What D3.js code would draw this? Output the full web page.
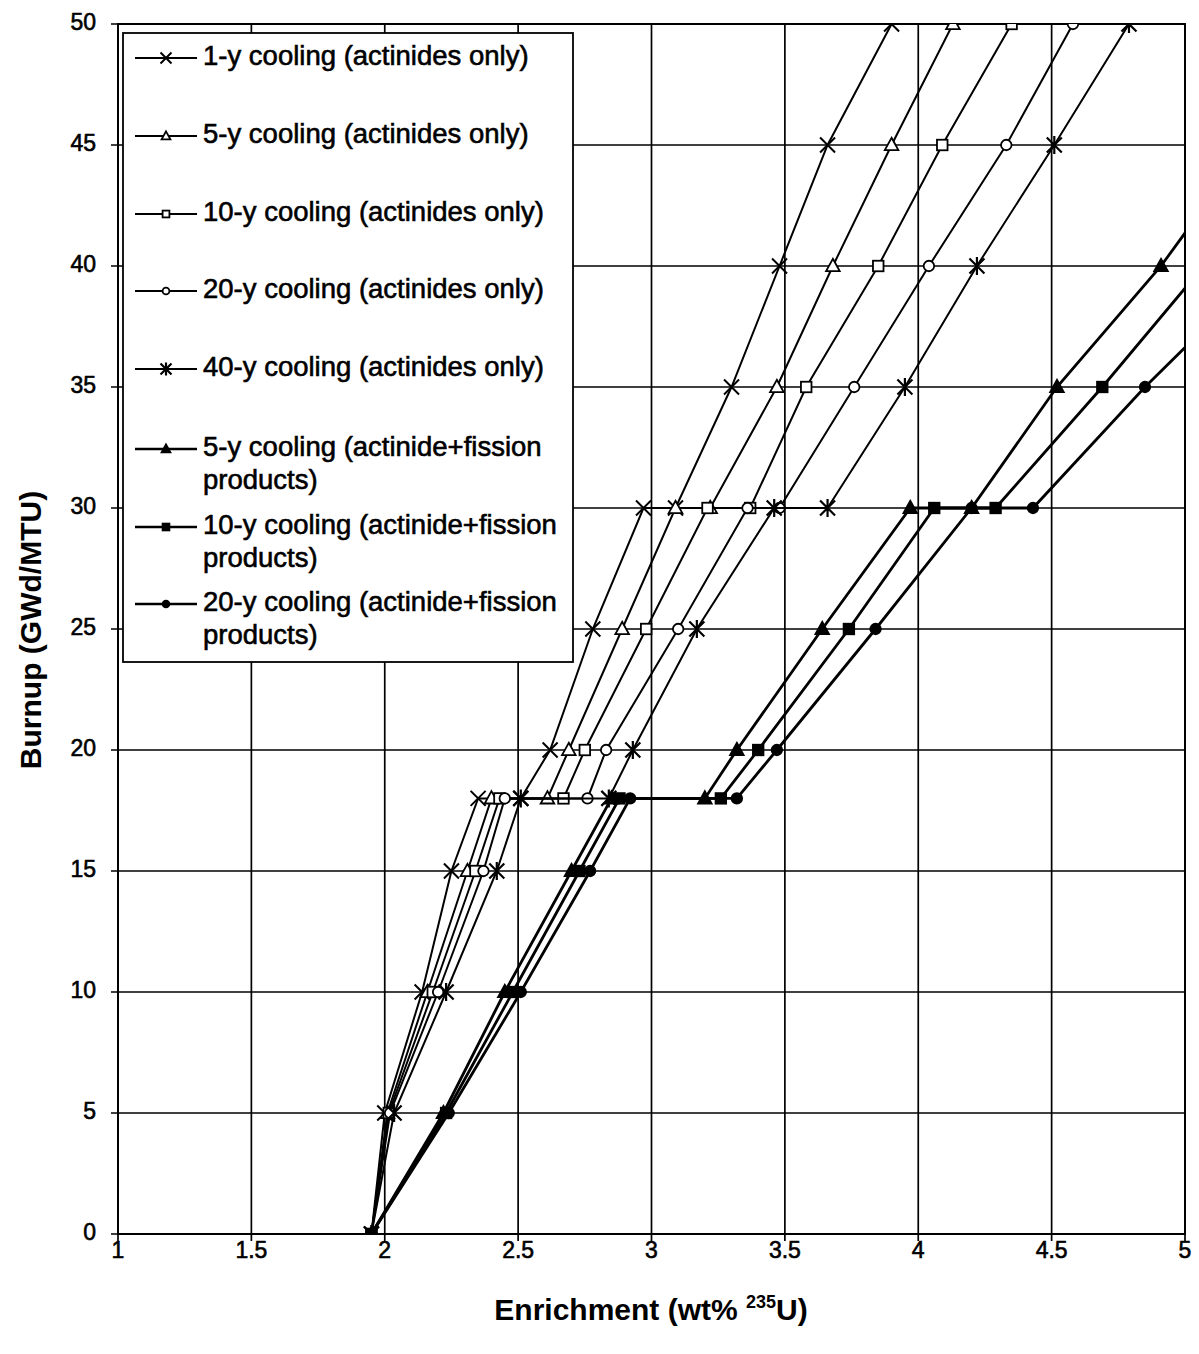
<!DOCTYPE html>
<html>
<head>
<meta charset="utf-8">
<script src="https://cdn.jsdelivr.net/npm/d3@7"></script>
<style>
	body { margin: 0; background: #fff; }
	text { font-family: "Liberation Sans", Arial, sans-serif; fill: #000; }
	.heavy { stroke: #000; stroke-width: 0.6px; }
</style>
</head>
<body>
<script>
// burnup levels (GWd/MTU); each series has a doubled point at 18 and 30
const burnupAct = [0, 5, 10, 15, 18, 18, 20, 25, 30, 30, 35, 40, 45, 50];
const burnupFP = [0, 5, 10, 15, 18, 18, 20, 25, 30, 30, 35, 40, 45];

// enrichment (wt% U-235)
const act1y = [1.95, 2.00, 2.14, 2.25, 2.35, 2.51, 2.62, 2.78, 2.97, 3.09, 3.30, 3.48, 3.66, 3.90];
const act5y = [1.95, 2.01, 2.16, 2.31, 2.40, 2.61, 2.69, 2.89, 3.09, 3.22, 3.47, 3.68, 3.90, 4.13];
const act10y = [1.95, 2.015, 2.18, 2.34, 2.43, 2.67, 2.75, 2.98, 3.21, 3.37, 3.58, 3.85, 4.09, 4.35];
const act20y = [1.95, 2.02, 2.20, 2.37, 2.45, 2.76, 2.83, 3.10, 3.36, 3.48, 3.76, 4.04, 4.33, 4.58];
const act40y = [1.95, 2.035, 2.23, 2.42, 2.51, 2.84, 2.93, 3.17, 3.46, 3.66, 3.95, 4.22, 4.51, 4.79];
const fp5y = [1.95, 2.22, 2.45, 2.70, 2.85, 3.20, 3.32, 3.64, 3.97, 4.20, 4.52, 4.91, 5.24];
const fp10y = [1.95, 2.23, 2.48, 2.73, 2.88, 3.26, 3.40, 3.74, 4.06, 4.29, 4.69, 5.07];
const fp20y = [1.95, 2.24, 2.51, 2.77, 2.92, 3.32, 3.47, 3.84, 4.20, 4.43, 4.85, 5.31];

const xTicks = [1, 1.5, 2, 2.5, 3, 3.5, 4, 4.5, 5];
const yTicks = [0, 5, 10, 15, 20, 25, 30, 35, 40, 45, 50];

const series = [
	{ name: ["1-y cooling (actinides only)"], x: act1y, y: burnupAct, sym: "cross", fp: false },
	{ name: ["5-y cooling (actinides only)"], x: act5y, y: burnupAct, sym: "triangle", fp: false },
	{ name: ["10-y cooling (actinides only)"], x: act10y, y: burnupAct, sym: "square", fp: false },
	{ name: ["20-y cooling (actinides only)"], x: act20y, y: burnupAct, sym: "circle", fp: false },
	{ name: ["40-y cooling (actinides only)"], x: act40y, y: burnupAct, sym: "star", fp: false },
	{ name: ["5-y cooling (actinide+fission", "products)"], x: fp5y, y: burnupFP, sym: "triangle", fp: true },
	{ name: ["10-y cooling (actinide+fission", "products)"], x: fp10y, y: burnupFP, sym: "square", fp: true },
	{ name: ["20-y cooling (actinide+fission", "products)"], x: fp20y, y: burnupFP, sym: "circle", fp: true }
];

const width = 1199, height = 1354;
const m = { left: 118, right: 1185, top: 24, bottom: 1234 };

const svg = d3.select("body").append("svg")
	.attr("width", width)
	.attr("height", height);

const x = d3.scaleLinear().domain([1, 5]).range([m.left, m.right]);
const y = d3.scaleLinear().domain([0, 50]).range([m.bottom, m.top]);

svg.append("clipPath").attr("id", "plot")
	.append("rect")
	.attr("x", m.left).attr("y", m.top)
	.attr("width", m.right - m.left).attr("height", m.bottom - m.top);

// grid
svg.append("g")
	.selectAll("line")
	.data(xTicks)
	.enter().append("line")
	.attr("x1", d => x(d)).attr("x2", d => x(d))
	.attr("y1", m.top).attr("y2", m.bottom + 7)
	.attr("stroke", "#000").attr("stroke-width", 1.7);

svg.append("g")
	.selectAll("line")
	.data(yTicks)
	.enter().append("line")
	.attr("x1", m.left - 7).attr("x2", m.right)
	.attr("y1", d => y(d)).attr("y2", d => y(d))
	.attr("stroke", "#000").attr("stroke-width", 1.7);

svg.append("rect")
	.attr("x", m.left).attr("y", m.top)
	.attr("width", m.right - m.left).attr("height", m.bottom - m.top)
	.attr("fill", "none").attr("stroke", "#000").attr("stroke-width", 2);

// tick labels
svg.append("g")
	.selectAll("text")
	.data(xTicks)
	.enter().append("text")
	.attr("class", "heavy")
	.attr("x", d => x(d)).attr("y", m.bottom + 18)
	.attr("text-anchor", "middle")
	.attr("dominant-baseline", "middle")
	.style("font-size", "23px")
	.text(d => d);

svg.append("g")
	.selectAll("text")
	.data(yTicks)
	.enter().append("text")
	.attr("class", "heavy")
	.attr("x", m.left - 22).attr("y", d => y(d))
	.attr("text-anchor", "end")
	.attr("dominant-baseline", "middle")
	.style("font-size", "23px")
	.text(d => d);

// axis titles
const xt = svg.append("text")
	.attr("x", 651).attr("y", 1320)
	.attr("text-anchor", "middle")
	.style("font-size", "30px").style("font-weight", "bold");
xt.append("tspan").text("Enrichment (wt% ");
xt.append("tspan").attr("dy", -12).style("font-size", "18px").text("235");
xt.append("tspan").attr("dy", 12).text("U)");

svg.append("text")
	.attr("transform", "translate(41,630) rotate(-90)")
	.attr("text-anchor", "middle")
	.style("font-size", "30px").style("font-weight", "bold")
	.text("Burnup (GWd/MTU)");

function drawMarker(g, sym, fill, s) {
	if (sym === "cross") {
		g.append("path").attr("d", `M${-s},${-s}L${s},${s}M${-s},${s}L${s},${-s}`)
			.attr("stroke", "#000").attr("stroke-width", 2).attr("fill", "none");
	} else if (sym === "star") {
		g.append("path").attr("d", `M${-s},${-s}L${s},${s}M${-s},${s}L${s},${-s}M0,${-s * 1.2}L0,${s * 1.2}`)
			.attr("stroke", "#000").attr("stroke-width", 2.2).attr("fill", "none");
	} else if (sym === "triangle") {
		g.append("path").attr("d", `M0,${-s * 0.85}L${s * 0.8},${s * 0.6}L${-s * 0.8},${s * 0.6}Z`)
			.attr("stroke", "#000").attr("stroke-width", 1.8).attr("fill", fill);
	} else if (sym === "square") {
		g.append("rect").attr("x", -s * 0.62).attr("y", -s * 0.62)
			.attr("width", s * 1.24).attr("height", s * 1.24)
			.attr("stroke", "#000").attr("stroke-width", 1.8).attr("fill", fill);
	} else {
		g.append("circle").attr("r", s * 0.62)
			.attr("stroke", "#000").attr("stroke-width", 1.8).attr("fill", fill);
	}
}

const line = d3.line().x(d => x(d[0])).y(d => y(d[1]));
const plot = svg.append("g").attr("clip-path", "url(#plot)");

series.forEach(s => {
	const pts = s.x.map((v, i) => [v, s.y[i]]);
	plot.append("path")
		.datum(pts)
		.attr("d", line)
		.attr("fill", "none")
		.attr("stroke", "#000")
		.attr("stroke-width", s.fp ? 2.8 : 2);
	pts.forEach(p => {
		const g = plot.append("g").attr("transform", `translate(${x(p[0])},${y(p[1])})`);
		drawMarker(g, s.sym, s.fp ? "#000" : "#fff", s.sym === "cross" || s.sym === "star" ? 7.5 : 8.5);
	});
});

// legend
const legend = svg.append("g");
legend.append("rect")
	.attr("x", 123).attr("y", 33)
	.attr("width", 450).attr("height", 629)
	.attr("fill", "#fff").attr("stroke", "#000").attr("stroke-width", 1.8);

const legendY = [58, 136, 214, 291, 369, 449, 527, 604];
series.forEach((s, i) => {
	const g = legend.append("g").attr("transform", `translate(0,${legendY[i]})`);
	g.append("line").attr("x1", 135).attr("x2", 197)
		.attr("stroke", "#000").attr("stroke-width", s.fp ? 2.6 : 1.8);
	const mk = g.append("g").attr("transform", "translate(166,0)");
	drawMarker(mk, s.sym, s.fp ? "#000" : "#fff", 5.5);
	s.name.forEach((t, j) => {
		g.append("text")
			.attr("class", "heavy")
			.attr("x", 203).attr("y", j * 33)
			.attr("dominant-baseline", "middle")
			.style("font-size", "27.5px")
			.text(t);
	});
});
</script>
</body>
</html>
